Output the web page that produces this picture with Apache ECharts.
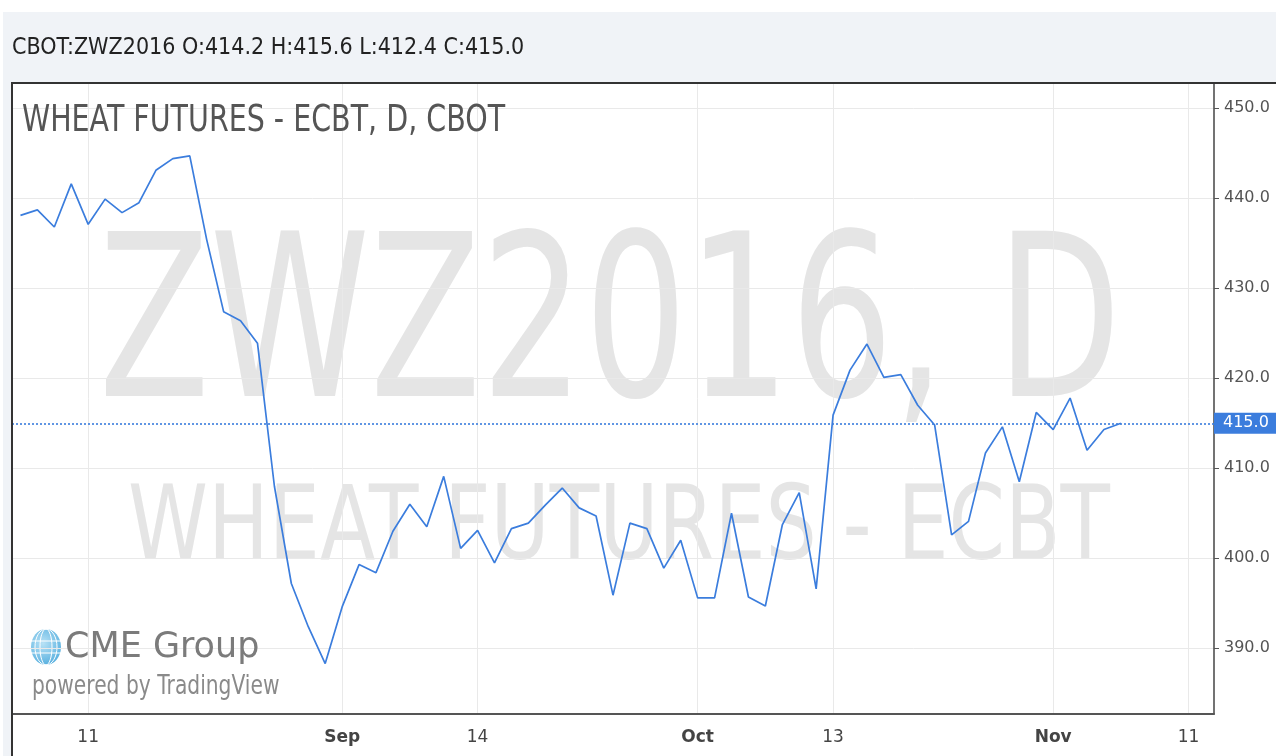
<!DOCTYPE html>
<html>
<head>
<meta charset="utf-8">
<script src="https://cdn.jsdelivr.net/npm/echarts@6/dist/echarts.min.js"></script>
<style>
  html, body { margin: 0; padding: 0; background: #fff; }
  #chart { width: 1276px; height: 756px; }
</style>
</head>
<body>
<div id="chart"></div>
<script>
// trading days shown on the x axis (last few are empty, future days)
const days = [
  'Aug 5', 'Aug 8', 'Aug 9', 'Aug 10', 'Aug 11', 'Aug 12', 'Aug 15', 'Aug 16', 'Aug 17', 'Aug 18', 'Aug 19',
  'Aug 22', 'Aug 23', 'Aug 24', 'Aug 25', 'Aug 26', 'Aug 29', 'Aug 30', 'Aug 31',
  'Sep 1', 'Sep 2', 'Sep 6', 'Sep 7', 'Sep 8', 'Sep 9', 'Sep 12', 'Sep 13', 'Sep 14', 'Sep 15', 'Sep 16',
  'Sep 19', 'Sep 20', 'Sep 21', 'Sep 22', 'Sep 23', 'Sep 26', 'Sep 27', 'Sep 28', 'Sep 29', 'Sep 30',
  'Oct 3', 'Oct 4', 'Oct 5', 'Oct 6', 'Oct 7', 'Oct 10', 'Oct 11', 'Oct 12', 'Oct 13', 'Oct 14',
  'Oct 17', 'Oct 18', 'Oct 19', 'Oct 20', 'Oct 21', 'Oct 24', 'Oct 25', 'Oct 26', 'Oct 27', 'Oct 28', 'Oct 31',
  'Nov 1', 'Nov 2', 'Nov 3', 'Nov 4', 'Nov 7', 'Nov 8', 'Nov 9', 'Nov 10', 'Nov 11', 'Nov 14'
];

// daily close
const closes = [
  438.1, 438.7, 436.8, 441.6, 437.1, 439.9, 438.4, 439.5, 443.1, 444.4, 444.7,
  435.4, 427.4, 426.4, 423.9, 408.0, 397.2, 392.4, 388.3,
  394.6, 399.3, 398.4, 403.0, 406.0, 403.5, 409.1, 401.1, 403.1, 399.5, 403.3,
  403.9, 405.9, 407.8, 405.6, 404.7, 395.9, 403.9, 403.3, 398.9, 402.0,
  395.6, 395.6, 405.0, 395.7, 394.7, 403.7, 407.3, 396.6, 415.9, 420.9,
  423.8, 420.1, 420.4, 417.0, 414.8, 402.6, 404.1, 411.7, 414.6, 408.5, 416.2,
  414.3, 417.8, 412.0, 414.3, 415.0
];

// which days carry a tick label, and which of those show the month name
const tickDays = ['Aug 11', 'Sep 1', 'Sep 14', 'Oct 3', 'Oct 13', 'Nov 1', 'Nov 11'];
const monthStarts = ['Sep 1', 'Oct 3', 'Nov 1'];

const lastClose = closes[closes.length - 1];
const headerText = 'CBOT:ZWZ2016 O:414.2 H:415.6 L:412.4 C:415.0';

const FONT = 'DejaVu Sans';
const BLUE = '#3b7ddd';
const isTick = (i, v) => tickDays.includes(v);

const chart = echarts.init(document.getElementById('chart'), null, { renderer: 'canvas' });

chart.setOption({
  animation: false,
  backgroundColor: '#fff',
  textStyle: { fontFamily: FONT },
  grid: { left: 12, right: 62, top: 83, bottom: 42 },
  xAxis: {
    type: 'category',
    data: days,
    boundaryGap: true,
    axisLine: { lineStyle: { color: '#555', width: 2 } },
    axisTick: { interval: isTick, alignWithLabel: true, length: 4, lineStyle: { color: '#555' } },
    splitLine: { show: true, interval: isTick, alignWithLabel: true, lineStyle: { color: '#e9e9e9', width: 1 } },
    axisLabel: {
      interval: isTick,
      margin: 15,
      color: '#444',
      fontSize: 17,
      fontFamily: FONT,
      formatter: v => monthStarts.includes(v) ? '{m|' + v.split(' ')[0] + '}' : '{d|' + v.split(' ')[1] + '}',
      rich: {
        m: { fontWeight: 'bold', fontSize: 17, color: '#444', fontFamily: FONT },
        d: { fontSize: 17, color: '#444', fontFamily: FONT }
      }
    }
  },
  yAxis: {
    type: 'value',
    position: 'right',
    min: 382.7,
    max: 452.8,
    splitNumber: 7,
    axisLine: { show: true, lineStyle: { color: '#444', width: 1.5 } },
    axisTick: { show: true, length: 5, lineStyle: { color: '#555' } },
    splitLine: { lineStyle: { color: '#e9e9e9' } },
    axisLabel: {
      showMinLabel: false,
      showMaxLabel: false,
      margin: 10,
      color: '#555',
      fontSize: 16,
      fontFamily: FONT,
      formatter: v => v.toFixed(1)
    }
  },
  series: [{
    type: 'line',
    data: closes,
    symbol: 'none',
    z: 5,
    lineStyle: { color: BLUE, width: 1.7 },
    markLine: {
      silent: true,
      symbol: ['none', 'none'],
      lineStyle: { color: BLUE, type: [2, 2], width: 1.6 },
      label: {
        position: 'end',
        distance: 0,
        formatter: p => p.value.toFixed(1),
        backgroundColor: BLUE,
        color: '#fff',
        fontSize: 16,
        fontFamily: FONT,
        padding: [3, 8, 2, 9]
      },
      data: [{ yAxis: lastClose }]
    }
  }],
  graphic: [
    // header band and left strip
    { type: 'rect', z: -5, shape: { x: 3, y: 12, width: 1273, height: 71 }, style: { fill: '#f0f3f7' } },
    { type: 'rect', z: -5, shape: { x: 3, y: 83, width: 8, height: 673 }, style: { fill: '#f0f3f7' } },
    { type: 'line', z: 20, shape: { x1: 11, y1: 83, x2: 1276, y2: 83 }, style: { stroke: '#333', lineWidth: 2 } },
    { type: 'line', z: 20, shape: { x1: 12, y1: 83, x2: 12, y2: 756 }, style: { stroke: '#333', lineWidth: 2 } },
    {
      type: 'text', z: 20, x: 12, y: 48, scaleX: 0.9,
      style: { text: headerText, x: 0, y: 0, fill: '#222', font: '23px "DejaVu Sans"', verticalAlign: 'middle' }
    },
    // watermark
    {
      type: 'text', z: -1, x: 610, y: 337, scaleX: 0.717,
      style: { text: 'ZWZ2016, D', x: 0, y: 0, fill: '#e5e5e5', font: '226px "DejaVu Sans"', align: 'center', verticalAlign: 'middle' }
    },
    {
      type: 'text', z: -1, x: 619, y: 532, scaleX: 0.785,
      style: { text: 'WHEAT FUTURES - ECBT', x: 0, y: 0, fill: '#e5e5e5', font: '103px "DejaVu Sans"', align: 'center', verticalAlign: 'middle' }
    },
    // chart title
    {
      type: 'text', z: 20, x: 22, y: 121, scaleX: 0.75,
      style: { text: 'WHEAT FUTURES - ECBT, D, CBOT', x: 0, y: 0, fill: '#555', font: '38px "DejaVu Sans"', verticalAlign: 'middle' }
    },
    // CME Group logo
    {
      type: 'group', z: 20,
      children: [
        { type: 'ellipse', shape: { cx: 46, cy: 647, rx: 15, ry: 18 },
          style: { fill: new echarts.graphic.RadialGradient(0.4, 0.4, 0.7, [
            { offset: 0, color: '#b8e2f6' }, { offset: 1, color: '#5cb2e0' }]) } },
        { type: 'ellipse', shape: { cx: 46, cy: 647, rx: 6, ry: 18 }, style: { fill: 'none', stroke: '#fff', lineWidth: 1 } },
        { type: 'ellipse', shape: { cx: 46, cy: 647, rx: 11, ry: 18 }, style: { fill: 'none', stroke: '#fff', lineWidth: 1 } },
        { type: 'line', shape: { x1: 31, y1: 641, x2: 61, y2: 641 }, style: { stroke: '#fff', lineWidth: 1 } },
        { type: 'line', shape: { x1: 31, y1: 653, x2: 61, y2: 653 }, style: { stroke: '#fff', lineWidth: 1 } }
      ]
    },
    {
      type: 'text', z: 20, x: 65, y: 648,
      style: { text: 'CME Group', x: 0, y: 0, fill: '#7b7b7b', font: '35px "DejaVu Sans"', verticalAlign: 'middle' }
    },
    {
      type: 'text', z: 20, x: 32, y: 687, scaleX: 0.75,
      style: { text: 'powered by TradingView', x: 0, y: 0, fill: '#8a8a8a', font: '27px "DejaVu Sans"', verticalAlign: 'middle' }
    }
  ]
});

window.addEventListener('resize', () => chart.resize());
</script>
</body>
</html>
